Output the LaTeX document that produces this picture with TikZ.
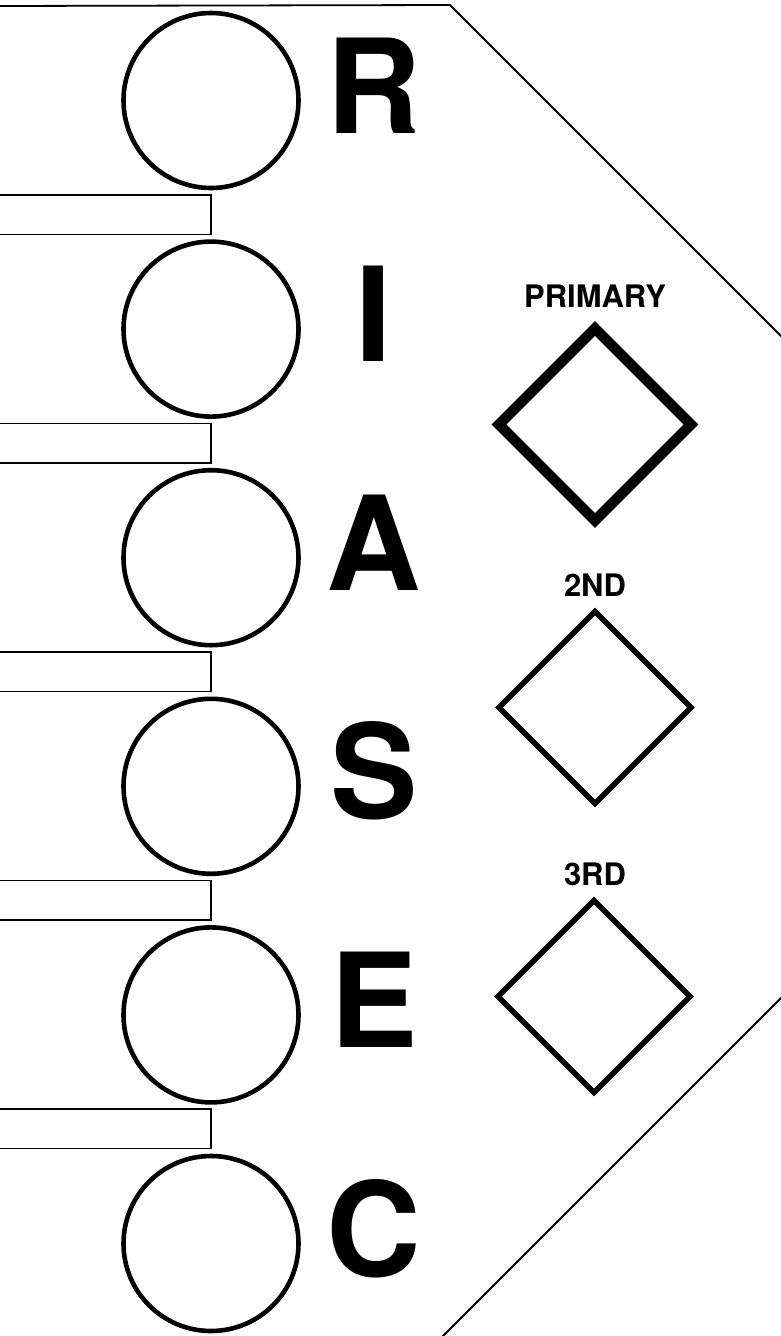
\documentclass[tikz,border=0pt]{standalone}
\usepackage{fontspec}
\setmainfont{TeX Gyre Heros}
\begin{document}
\begin{tikzpicture}[x=1pt,y=-1pt,
  outline/.style={draw=black,line width=1.8pt},
  ring/.style={circle,draw=black,line width=4.6pt,minimum size=175pt,inner sep=0pt},
  bar/.style={draw=black,line width=1.8pt},
  letter/.style={anchor=base,inner sep=0pt,font=\fontsize{131}{131}\selectfont\bfseries},
  lab/.style={anchor=base,inner sep=0pt,font=\fontsize{31}{31}\selectfont\bfseries},
  gemthick/.style={draw=black,line width=10.5pt,miter limit=10,line join=miter},
  gemthin/.style={draw=black,line width=5.5pt,miter limit=10,line join=miter}]
\useasboundingbox (0,0) rectangle (781,1336);
% outer outline
\coordinate (o1) at (-2,6);
\coordinate (o2) at (450,5);
\coordinate (o3) at (783,338);
\coordinate (o4) at (783,996);
\coordinate (o5) at (442,1337);
\draw[outline] (o1) -- (o2) -- (o3);
\draw[outline] (o4) -- (o5);
% bars
\foreach \i in {0,...,4} {
  \pgfmathsetmacro\ty{195+228.5*\i}
  \pgfmathsetmacro\by{234.5+228.5*\i}
  \draw[bar] (-5,\ty) rectangle (211,\by);
}
% circles and letters
\foreach \i/\L in {0/R,1/I,2/A,3/S,4/E,5/C} {
  \pgfmathsetmacro\cy{100.5+228.6*\i}
  \node[ring] (c\i) at (211,\cy) {};
  \node[letter] (l\i) at (374,\cy+32.5) {\L};
}
% labels
\node[lab] (tp) at (595,307) {PRIMARY};
\node[lab] (t2) at (595,596) {2ND};
\node[lab] (t3) at (595,885) {3RD};
% diamonds
\draw[gemthick] (595,328.5) -- (691,424.5) -- (595,520.5) -- (499,424.5) -- cycle;
\draw[gemthin] (595,611.5) -- (691,707.5) -- (595,803.5) -- (499,707.5) -- cycle;
\draw[gemthin] (594,900.5) -- (690,996.5) -- (594,1092.5) -- (498,996.5) -- cycle;
\end{tikzpicture}
\end{document}
